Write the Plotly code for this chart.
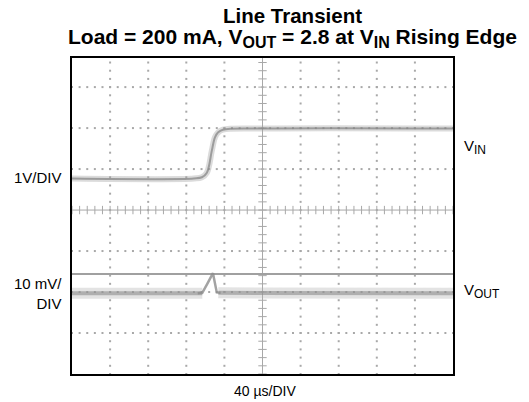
import numpy as np
import plotly.graph_objects as go

# ---- data (in scope divisions) ----
vin_x = [0, 3.2, 3.41, 3.54, 3.67, 3.75, 3.83, 3.96, 5.0, 10]
vin_y = [4.77, 4.77, 4.80, 4.91, 5.45, 5.77, 5.89, 5.96, 5.99, 5.99]

vout_band_x = [0, 3.42, None, 3.84, 10]
vout_band_y = [1.97, 1.97, None, 1.98, 1.97]

vout_spike_x = [3.30, 3.42, 3.55, 3.70, 3.80, 3.90]
vout_spike_y = [1.97, 1.98, 2.20, 2.46, 1.99, 1.98]

cursor_x = [0, 10]
cursor_y = [2.44, 2.44]

n_xdiv = 10
y_top = 7.71
center_x = 5
center_y = 4

title1 = "<b>Line Transient</b>"
title2 = ("<b>Load = 200 mA, V<sub><span style='font-size:16px'>OUT</span></sub> = 2.8 at "
          "V<sub><span style='font-size:16px'>IN</span></sub> Rising Edge</b>")

FONT = "Liberation Sans, Arial, sans-serif"
GRID = "#a8a8a8"

fig = go.Figure()

# graticule dots
gx, gy = [], []
for k in range(1, n_xdiv):
    if k == center_x:
        continue
    for yy in np.arange(0, y_top, 0.2):
        gx.append(k); gy.append(yy)
for k in range(1, int(y_top) + 1):
    if k == center_y:
        continue
    for xx in np.arange(0, n_xdiv + 0.001, 0.2):
        gx.append(xx); gy.append(k)
fig.add_trace(go.Scatter(x=gx, y=gy, mode="markers",
                         marker=dict(symbol="square", size=2, color=GRID),
                         hoverinfo="skip", showlegend=False))

# center crosshair
fig.add_trace(go.Scatter(x=[0, n_xdiv], y=[center_y, center_y], mode="lines",
                         line=dict(color=GRID, width=1), hoverinfo="skip", showlegend=False))
fig.add_trace(go.Scatter(x=[center_x, center_x], y=[0, y_top], mode="lines",
                         line=dict(color=GRID, width=1), hoverinfo="skip", showlegend=False))
tx = np.arange(0, n_xdiv + 0.001, 0.2)
fig.add_trace(go.Scatter(x=tx, y=[center_y] * len(tx), mode="markers",
                         marker=dict(symbol="line-ns", size=6, color=GRID, line=dict(width=1, color=GRID)),
                         hoverinfo="skip", showlegend=False))
ty = np.arange(0, y_top, 0.2)
fig.add_trace(go.Scatter(x=[center_x] * len(ty), y=ty, mode="markers",
                         marker=dict(symbol="line-ew", size=6, color=GRID, line=dict(width=1, color=GRID)),
                         hoverinfo="skip", showlegend=False))

# cursor line
fig.add_trace(go.Scatter(x=cursor_x, y=cursor_y, mode="lines",
                         line=dict(color="#a0a0a0", width=2), showlegend=False))

# VIN trace (noisy thick band)
fig.add_trace(go.Scatter(x=vin_x, y=vin_y, mode="lines", line_shape="spline",
                         line=dict(color="rgba(165,165,165,0.4)", width=6), showlegend=False))
fig.add_trace(go.Scatter(x=vin_x, y=vin_y, mode="lines", line_shape="spline",
                         line=dict(color="rgba(130,130,130,0.7)", width=2), showlegend=False))

# VOUT trace
fig.add_trace(go.Scatter(x=vout_band_x, y=vout_band_y, mode="lines",
                         line=dict(color="rgba(175,175,175,0.35)", width=11), showlegend=False))
fig.add_trace(go.Scatter(x=vout_band_x, y=vout_band_y, mode="lines",
                         line=dict(color="rgba(140,140,140,0.6)", width=4), showlegend=False))
fig.add_trace(go.Scatter(x=vout_spike_x, y=vout_spike_y, mode="lines",
                         line=dict(color="rgba(140,140,140,0.8)", width=2.5), showlegend=False))

fig.update_xaxes(range=[0, n_xdiv], showgrid=False, zeroline=False, showticklabels=False,
                 ticks="", showline=True, mirror=True, linecolor="black", linewidth=2)
fig.update_yaxes(range=[0, y_top], showgrid=False, zeroline=False, showticklabels=False,
                 ticks="", showline=True, mirror=True, linecolor="black", linewidth=2)

W, H = 529, 402
L, R, T, B = 72, 76, 58, 28
pw, ph = W - L - R, H - T - B

def px(xp):
    return (xp - L) / pw

def py(yp):
    return (H - B - yp) / ph

sub_lbl = "<sub><span style='font-size:12px'>{}</span></sub>"
ann = []
ann.append(dict(text=title1, x=px(292), y=py(16), font=dict(size=20.5, color="black", family=FONT)))
ann.append(dict(text=title2, x=px(292), y=py(38), font=dict(size=21, color="black", family=FONT)))
ann.append(dict(text="1V/DIV", x=px(64), y=py(177), xanchor="right", font=dict(size=15, color="black", family=FONT)))
ann.append(dict(text="10 mV/<br>DIV", x=px(64), y=py(293), xanchor="right", align="right",
                font=dict(size=15, color="black", family=FONT)))
ann.append(dict(text="V" + sub_lbl.format("IN"), x=px(462), y=py(147), xanchor="left",
                font=dict(size=15, color="black", family=FONT)))
ann.append(dict(text="V" + sub_lbl.format("OUT"), x=px(462), y=py(291), xanchor="left",
                font=dict(size=15, color="black", family=FONT)))
ann.append(dict(text="40 µs/DIV", x=px(265), y=py(391), font=dict(size=14, color="black", family=FONT)))
for a in ann:
    a.update(xref="paper", yref="paper", showarrow=False, yanchor="middle")
    a.setdefault("xanchor", "center")

fig.update_layout(width=W, height=H, margin=dict(l=L, r=R, t=T, b=B),
                  paper_bgcolor="white", plot_bgcolor="white",
                  annotations=ann, showlegend=False)

fig.write_html("out.html", config={"displayModeBar": False},
               post_script="document.body.style.margin='0';document.body.style.overflow='hidden';")
